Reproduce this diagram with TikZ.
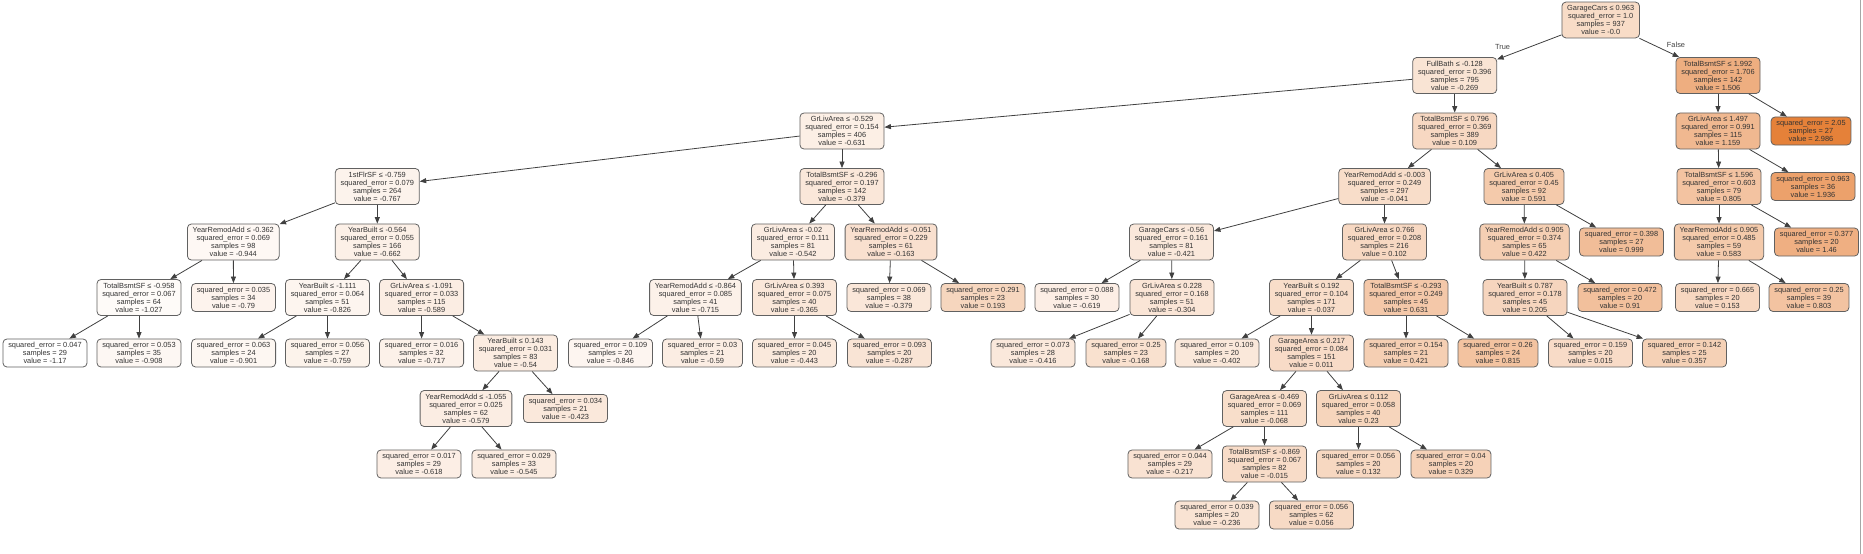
\documentclass[tikz,border=0pt]{standalone}
\usepackage{fontspec}
\setmainfont{Liberation Sans}
\usetikzlibrary{arrows.meta}
\definecolor{tor}{RGB}{229,129,57}
\newcommand\splitT[5]{#1 ≤ #2\\squared\_error = #3\\samples = #4\\value = #5}
\newcommand\leafT[3]{squared\_error = #1\\samples = #2\\value = #3}
\tikzset{
  tn/.style={draw=black!62, line width=0.8pt, rounded corners=4pt, align=center,
    font=\fontsize{7.4}{8}\selectfont, text=black!80, inner xsep=5.3pt, inner ysep=3.3pt,
    fill=tor!#1!white},
  edge/.style={draw=black!75, line width=0.8pt, -{Triangle[length=6.5pt,width=5pt]}},
  elab/.style={font=\fontsize{7.4}{8}\selectfont, text=black!75, inner sep=0pt}
}
\begin{document}
\begin{tikzpicture}[x=1pt,y=-1pt]
\useasboundingbox (0,0) rectangle (1863,554);
% level 0
\node[tn=28.15] (n0) at (1600.7,20) {\splitT{GarageCars}{0.963}{1.0}{937}{-0.0}};
% level 1
\node[tn=21.68] (n1) at (1454.7,75.5) {\splitT{FullBath}{-0.128}{0.396}{795}{-0.269}};
\node[tn=64.39] (n2) at (1718,75.5) {\splitT{TotalBsmtSF}{1.992}{1.706}{142}{1.506}};
% level 2
\node[tn=12.97] (n3) at (842,131) {\splitT{GrLivArea}{-0.529}{0.154}{406}{-0.631}};
\node[tn=30.77] (n4) at (1454.7,131) {\splitT{TotalBsmtSF}{0.796}{0.369}{389}{0.109}};
\node[tn=56.04] (n5) at (1718,131) {\splitT{GrLivArea}{1.497}{0.991}{115}{1.159}};
\node[tn=100] (n6) at (1811,131) {\leafT{2.05}{27}{2.986}};
% level 3
\node[tn=9.70] (n7) at (377.3,186.5) {\splitT{1stFlrSF}{-0.759}{0.079}{264}{-0.767}};
\node[tn=19.03] (n8) at (842,186.5) {\splitT{TotalBsmtSF}{-0.296}{0.197}{142}{-0.379}};
\node[tn=27.17] (n9) at (1384.6,186.5) {\splitT{YearRemodAdd}{-0.003}{0.249}{297}{-0.041}};
\node[tn=42.37] (n10) at (1524,186.5) {\splitT{GrLivArea}{0.405}{0.45}{92}{0.591}};
\node[tn=47.52] (n11) at (1719,186.5) {\splitT{TotalBsmtSF}{1.596}{0.603}{79}{0.805}};
\node[tn=74.74] (n12) at (1813,186.5) {\leafT{0.963}{36}{1.936}};
% level 4
\node[tn=5.44] (n13) at (233.3,242) {\splitT{YearRemodAdd}{-0.362}{0.069}{98}{-0.944}};
\node[tn=12.22] (n14) at (377.3,242) {\splitT{YearBuilt}{-0.564}{0.055}{166}{-0.662}};
\node[tn=15.11] (n15) at (793,242) {\splitT{GrLivArea}{-0.02}{0.111}{81}{-0.542}};
\node[tn=24.23] (n16) at (891,242) {\splitT{YearRemodAdd}{-0.051}{0.229}{61}{-0.163}};
\node[tn=18.02] (n17) at (1171.5,242) {\splitT{GarageCars}{-0.56}{0.161}{81}{-0.421}};
\node[tn=30.61] (n18) at (1384.5,242) {\splitT{GrLivArea}{0.766}{0.208}{216}{0.102}};
\node[tn=38.31] (n19) at (1524.5,242) {\splitT{YearRemodAdd}{0.905}{0.374}{65}{0.422}};
\node[tn=52.19] (n20) at (1621.5,242) {\leafT{0.398}{27}{0.999}};
\node[tn=42.18] (n21) at (1719,242) {\splitT{YearRemodAdd}{0.905}{0.485}{59}{0.583}};
\node[tn=63.28] (n22) at (1816.5,242) {\leafT{0.377}{20}{1.46}};
% level 5
\node[tn=3.44] (n23) at (139,297.5) {\splitT{TotalBsmtSF}{-0.958}{0.067}{64}{-1.027}};
\node[tn=9.14] (n24) at (233.5,297.5) {\leafT{0.035}{34}{-0.79}};
\node[tn=8.28] (n25) at (327.5,297.5) {\splitT{YearBuilt}{-1.111}{0.064}{51}{-0.826}};
\node[tn=13.98] (n26) at (421.6,297.5) {\splitT{GrLivArea}{-1.091}{0.033}{115}{-0.589}};
\node[tn=10.95] (n27) at (695.5,297.5) {\splitT{YearRemodAdd}{-0.864}{0.085}{41}{-0.715}};
\node[tn=19.37] (n28) at (794.5,297.5) {\splitT{GrLivArea}{0.393}{0.075}{40}{-0.365}};
\node[tn=19.03] (n29) at (889,297.5) {\leafT{0.069}{38}{-0.379}};
\node[tn=32.80] (n30) at (983,297.5) {\leafT{0.291}{23}{0.193}};
\node[tn=13.26] (n31) at (1077,297.5) {\leafT{0.088}{30}{-0.619}};
\node[tn=20.84] (n32) at (1172,297.5) {\splitT{GrLivArea}{0.228}{0.168}{51}{-0.304}};
\node[tn=27.26] (n33) at (1311.5,297.5) {\splitT{YearBuilt}{0.192}{0.104}{171}{-0.037}};
\node[tn=43.33] (n34) at (1406,297.5) {\splitT{TotalBsmtSF}{-0.293}{0.249}{45}{0.631}};
\node[tn=33.08] (n35) at (1525,297.5) {\splitT{YearBuilt}{0.787}{0.178}{45}{0.205}};
\node[tn=50.05] (n36) at (1620,297.5) {\leafT{0.472}{20}{0.91}};
\node[tn=31.83] (n37) at (1717.5,297.5) {\leafT{0.665}{20}{0.153}};
\node[tn=47.47] (n38) at (1809,297.5) {\leafT{0.25}{39}{0.803}};
% level 6
\node[tn=0] (n39) at (45,353) {\leafT{0.047}{29}{-1.17}};
\node[tn=6.30] (n40) at (139,353) {\leafT{0.053}{35}{-0.908}};
\node[tn=6.47] (n41) at (233.6,353) {\leafT{0.063}{24}{-0.901}};
\node[tn=9.89] (n42) at (327.5,353) {\leafT{0.056}{27}{-0.759}};
\node[tn=10.90] (n43) at (421.6,353) {\leafT{0.016}{32}{-0.717}};
\node[tn=15.16] (n44) at (515.5,353) {\splitT{YearBuilt}{0.143}{0.031}{83}{-0.54}};
\node[tn=7.80] (n45) at (610.5,353) {\leafT{0.109}{20}{-0.846}};
\node[tn=13.96] (n46) at (702.5,353) {\leafT{0.03}{21}{-0.59}};
\node[tn=17.49] (n47) at (794.5,353) {\leafT{0.045}{20}{-0.443}};
\node[tn=21.25] (n48) at (889.5,353) {\leafT{0.093}{20}{-0.287}};
\node[tn=18.14] (n49) at (1033,353) {\leafT{0.073}{28}{-0.416}};
\node[tn=24.11] (n50) at (1126,353) {\leafT{0.25}{23}{-0.168}};
\node[tn=18.48] (n51) at (1217,353) {\leafT{0.109}{20}{-0.402}};
\node[tn=28.42] (n52) at (1311.5,353) {\splitT{GarageArea}{0.217}{0.084}{151}{0.011}};
\node[tn=38.28] (n53) at (1406,353) {\leafT{0.154}{21}{0.421}};
\node[tn=47.76] (n54) at (1498,353) {\leafT{0.26}{24}{0.815}};
\node[tn=28.51] (n55) at (1590.5,353) {\leafT{0.159}{20}{0.015}};
\node[tn=36.74] (n56) at (1684.5,353) {\leafT{0.142}{25}{0.357}};
% level 7
\node[tn=14.22] (n57) at (466,408.5) {\splitT{YearRemodAdd}{-1.055}{0.025}{62}{-0.579}};
\node[tn=17.97] (n58) at (565.5,408.5) {\leafT{0.034}{21}{-0.423}};
\node[tn=26.52] (n59) at (1264.5,408.5) {\splitT{GarageArea}{-0.469}{0.069}{111}{-0.068}};
\node[tn=33.69] (n60) at (1358.5,408.5) {\splitT{GrLivArea}{0.112}{0.058}{40}{0.23}};
% level 8
\node[tn=13.28] (n61) at (419,464) {\leafT{0.017}{29}{-0.618}};
\node[tn=15.04] (n62) at (514,464) {\leafT{0.029}{33}{-0.545}};
\node[tn=22.93] (n63) at (1170,464) {\leafT{0.044}{29}{-0.217}};
\node[tn=27.79] (n64) at (1264.5,464) {\splitT{TotalBsmtSF}{-0.869}{0.067}{82}{-0.015}};
\node[tn=31.33] (n65) at (1358.5,464) {\leafT{0.056}{20}{0.132}};
\node[tn=36.07] (n66) at (1451,464) {\leafT{0.04}{20}{0.329}};
% level 9
\node[tn=22.47] (n67) at (1217,515) {\leafT{0.039}{20}{-0.236}};
\node[tn=29.50] (n68) at (1311.5,515) {\leafT{0.056}{62}{0.056}};
% edges
\foreach \a/\b in {0/1,0/2,1/3,1/4,2/5,2/6,3/7,3/8,4/9,4/10,5/11,5/12,
  7/13,7/14,8/15,8/16,9/17,9/18,10/19,10/20,11/21,11/22,
  13/23,13/24,14/25,14/26,15/27,15/28,16/29,16/30,17/31,17/32,18/33,18/34,
  19/35,19/36,21/37,21/38,23/39,23/40,25/41,25/42,26/43,26/44,27/45,27/46,
  28/47,28/48,32/49,32/50,33/51,33/52,34/53,34/54,35/55,35/56,
  44/57,44/58,52/59,52/60,57/61,57/62,59/63,59/64,60/65,60/66,64/67,64/68}
  \draw[edge] (n\a) -- (n\b);
\node[elab] (ltrue) at (1502.5,46.5) {True};
\node[elab] (lfalse) at (1676,44.5) {False};
\draw[black!35, line width=1pt] (1860.5,0) -- (1860.5,554);
\end{tikzpicture}
\end{document}
